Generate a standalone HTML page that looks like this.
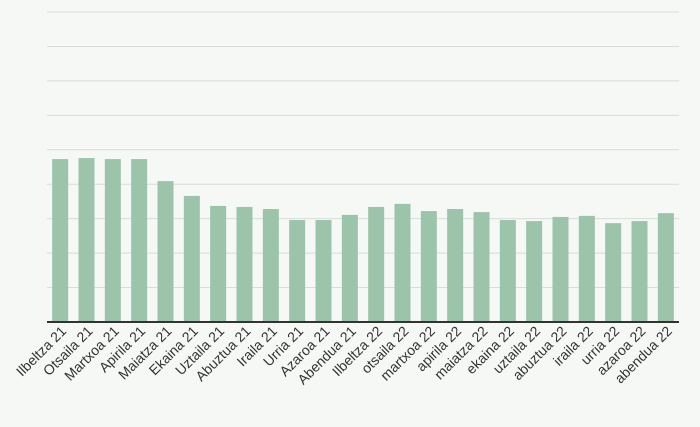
<!DOCTYPE html>
<html><head><meta charset="utf-8"><style>
html,body{margin:0;padding:0;background:#f5f8f5;}
svg{display:block;font-family:"Liberation Sans",sans-serif;}
</style></head><body>
<svg id="chart" width="700" height="427"></svg>
<script>
const categories=["Ilbeltza 21","Otsaila 21","Martxoa 21","Apirila 21","Maiatza 21","Ekaina 21","Uztaila 21","Abuztua 21","Iraila 21","Urria 21","Azaroa 21","Abendua 21","Ilbeltza 22","otsaila 22","martxoa 22","apirila 22","maiatza 22","ekaina 22","uztaila 22","abuztua 22","iraila 22","urria 22","azaroa 22","abendua 22"];
const values=[4.73,4.76,4.73,4.73,4.09,3.66,3.37,3.34,3.28,2.96,2.96,3.11,3.34,3.43,3.22,3.28,3.19,2.96,2.93,3.05,3.08,2.87,2.93,3.16];
const gridTicks=[1,2,3,4,5,6,7,8,9];
const NS="http://www.w3.org/2000/svg";
const svg=document.getElementById("chart");
const x0=47,x1=679,yBase=322,yTop=12,yMax=9;
const step=(x1-x0)/categories.length;
const y=v=>yBase-(v/yMax)*(yBase-yTop);
const xc=i=>x0+step*(i+0.5);
function mk(t,a){const e=document.createElementNS(NS,t);for(const k in a)e.setAttribute(k,a[k]);svg.appendChild(e);return e;}
gridTicks.forEach(t=>{
  const l=mk("line",{x1:x0,x2:x1,y1:y(t),y2:y(t),stroke:"#d9dcd9","stroke-width":1});
  
  
});
values.forEach((v,i)=>{
  const r=mk("rect",{x:xc(i)-8,y:y(v),width:16,height:yBase-y(v),fill:"#9bc4ab"});
  
  
  const tx=xc(i)+7,ty=yBase+10;
  const t=mk("text",{x:tx,y:ty,"text-anchor":"end","font-size":14,fill:"#333",transform:`rotate(-45 ${tx} ${ty})`});
  t.textContent=categories[i];
  
  
});
const ax=mk("line",{x1:x0,x2:x1,y1:yBase,y2:yBase,stroke:"#333","stroke-width":2});


</script>
</body></html>
